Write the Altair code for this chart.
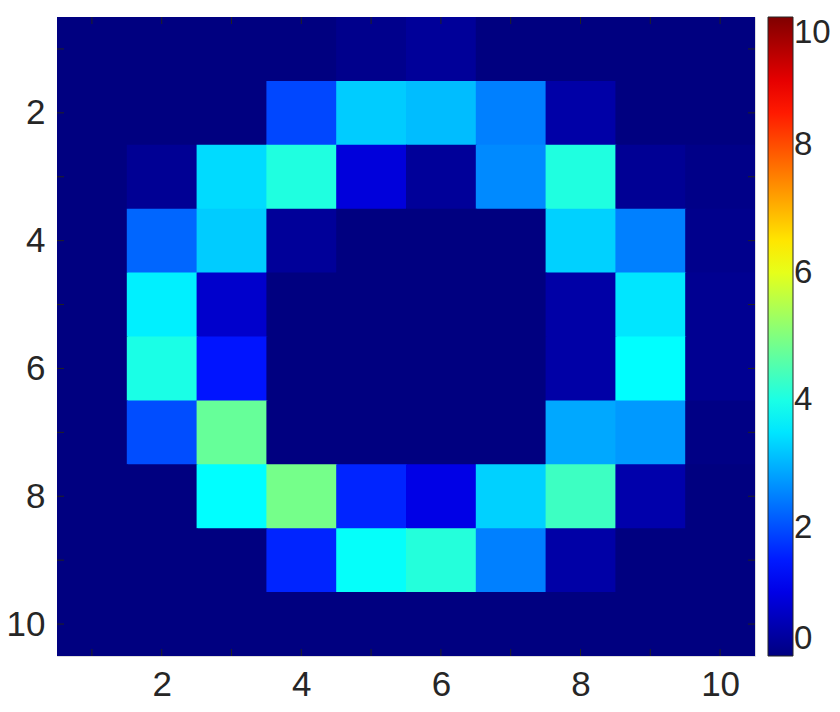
import altair as alt
import pandas as pd

# Matrix values, one list per image row (row 1 at top), columns 1..10
row1 = [0.0, 0.0, 0.0, 0.0, 0.12, 0.25, 0.0, 0.0, 0.0, 0.0]
row2 = [0.0, 0.0, 0.0, 1.95, 3.25, 3.1, 2.5, 0.38, 0.0, 0.0]
row3 = [0.0, 0.2, 3.4, 4.05, 0.9, 0.25, 2.6, 4.05, 0.2, 0.08]
row4 = [0.0, 2.25, 3.25, 0.25, 0.0, 0.0, 0.0, 3.3, 2.5, 0.12]
row5 = [0.0, 3.6, 0.75, 0.0, 0.0, 0.0, 0.0, 0.37, 3.5, 0.17]
row6 = [0.0, 4.0, 1.45, 0.0, 0.0, 0.0, 0.0, 0.37, 3.75, 0.17]
row7 = [0.0, 2.0, 4.75, 0.0, 0.0, 0.0, 0.0, 2.9, 2.75, 0.05]
row8 = [0.0, 0.0, 3.75, 4.9, 1.6, 1.0, 3.3, 4.35, 0.42, 0.0]
row9 = [0.0, 0.0, 0.0, 1.6, 3.8, 4.1, 2.5, 0.37, 0.0, 0.0]
row10 = [0.0, 0.0, 0.0, 0.0, 0.0, 0.0, 0.0, 0.0, 0.0, 0.0]
rows = [row1, row2, row3, row4, row5, row6, row7, row8, row9, row10]

tick_positions = [1, 2, 3, 4, 5, 6, 7, 8, 9, 10]
label_values = [2, 4, 6, 8, 10]
colorbar_labels = [0, 2, 4, 6, 8, 10]

# jet colormap stops
jet_domain = [0, 1.25, 3.75, 6.25, 8.75, 10]
jet_range = ["#000080", "#0000ff", "#00ffff", "#ffff00", "#ff0000", "#800000"]

recs = []
for r, vals in enumerate(rows, start=1):
    for c, v in enumerate(vals, start=1):
        recs.append({"col": c, "row": r, "x0": c - 0.5, "x1": c + 0.5,
                     "y0": r - 0.5, "y1": r + 0.5, "value": v})
df = pd.DataFrame(recs)
ticks = pd.DataFrame({"t": tick_positions})

W, H = 698, 639
FONT = "Liberation Sans"
FS = 35

xscale = alt.Scale(domain=[0.5, 10.5], nice=False, zero=False)
yscale = alt.Scale(domain=[0.5, 10.5], nice=False, zero=False, reverse=True)
jet = alt.Scale(domain=jet_domain, range=jet_range, interpolate="rgb")

heat = alt.Chart(df).mark_rect(x2Offset=1, y2Offset=1, clip=True).encode(
    x=alt.X("x0:Q", scale=xscale,
            axis=alt.Axis(values=label_values, ticks=False, domain=False, grid=False,
                          title=None, labelFontSize=FS, labelFont=FONT,
                          labelColor="#262626", labelPadding=11, format="d")),
    x2="x1:Q",
    y=alt.Y("y0:Q", scale=yscale,
            axis=alt.Axis(values=label_values, ticks=False, domain=False, grid=False,
                          title=None, labelFontSize=FS, labelFont=FONT,
                          labelColor="#262626", labelPadding=12, format="d")),
    y2="y1:Q",
    color=alt.Color("value:Q", scale=jet,
                    legend=alt.Legend(type="gradient", title=None, orient="right",
                                      direction="vertical",
                                      gradientLength=H, gradientThickness=25,
                                      gradientStrokeColor="#262626", gradientStrokeWidth=1,
                                      values=colorbar_labels, labelFontSize=33,
                                      labelFont=FONT, labelColor="#262626",
                                      labelBaseline="middle",
                                      labelOffset=1, offset=13, padding=0,
                                      labelOverlap=False)),
)

tl = 7
top_ticks = alt.Chart(ticks).mark_rule(color="#222222", strokeWidth=1).encode(
    x=alt.X("t:Q", scale=xscale), y=alt.value(0), y2=alt.value(tl))
bot_ticks = alt.Chart(ticks).mark_rule(color="#222222", strokeWidth=1).encode(
    x=alt.X("t:Q", scale=xscale), y=alt.value(H - tl), y2=alt.value(H))
left_ticks = alt.Chart(ticks).mark_rule(color="#222222", strokeWidth=1).encode(
    y=alt.Y("t:Q", scale=yscale), x=alt.value(0), x2=alt.value(tl))
right_ticks = alt.Chart(ticks).mark_rule(color="#222222", strokeWidth=1).encode(
    y=alt.Y("t:Q", scale=yscale), x=alt.value(W - tl), x2=alt.value(W))

chart = alt.layer(heat, top_ticks, bot_ticks, left_ticks, right_ticks).properties(
    width=W, height=H,
    autosize=alt.AutoSizeParams(type="none"),
    padding={"left": 49, "top": 9, "right": 76, "bottom": 47},
).configure_view(stroke="#262626", strokeWidth=1).configure(background="white")

chart.save("out.html", embed_options={"renderer": "svg", "actions": False})
